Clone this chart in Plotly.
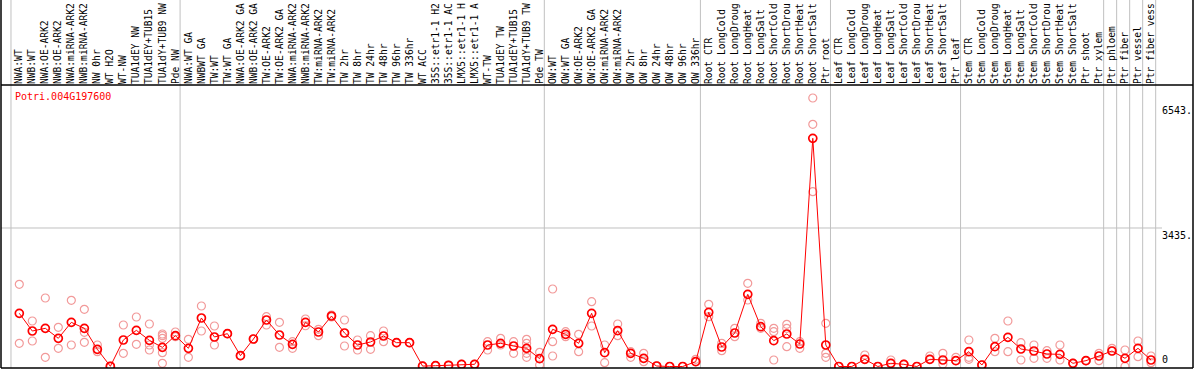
import plotly.graph_objects as go

categories = [
    "NWA:WT", "NWB:WT", "NWA:OE-ARK2", "NWB:OE-ARK2", "NWA:miRNA-ARK2", "NWB:miRNA-ARK2",
    "NW 0hr", "WT H2O", "WT-NW", "TUA1dEY NW", "TUA1dEY+TUB15 NW", "TUA1dY+TUB9 NW", "Pde NW",
    "NWA:WT GA", "NWBWT GA", "TW:WT", "TW:WT GA", "NWA:OE-ARK2 GA", "NWB:OE-ARK2 GA",
    "TW:OE-ARK2", "TW:OE-ARK2 GA", "NWA:miRNA-ARK2", "NWB:miRNA-ARK2", "TW:miRNA-ARK2",
    "TW:miRNA-ARK2", "TW 2hr", "TW 8hr", "TW 24hr", "TW 48hr", "TW 96hr", "TW 336hr",
    "WT ACC", "35S::etr1-1 H2O", "35S::etr1-1 ACC", "LMX5::etr1-1 H2O", "LMX5::etr1-1 ACC",
    "WT-TW", "TUA1dEY TW", "TUA1dEY+TUB15 TW", "TUA1dY+TUB9 TW", "Pde TW",
    "OW:WT", "OW:WT GA", "OW:OE-ARK2", "OW:OE-ARK2 GA", "OW:miRNA-ARK2", "OW:miRNA-ARK2",
    "OW 2hr", "OW 8hr", "OW 24hr", "OW 48hr", "OW 96hr", "OW 336hr",
    "Root CTR", "Root LongCold", "Root LongDrought", "Root LongHeat", "Root LongSalt",
    "Root ShortCold", "Root ShortDrought", "Root ShortHeat", "Root ShortSalt", "Ptr root",
    "Leaf CTR", "Leaf LongCold", "Leaf LongDrought", "Leaf LongHeat", "Leaf LongSalt",
    "Leaf ShortCold", "Leaf ShortDrought", "Leaf ShortHeat", "Leaf ShortSalt", "Ptr leaf",
    "Stem CTR", "Stem LongCold", "Stem LongDrought", "Stem LongHeat", "Stem LongSalt",
    "Stem ShortCold", "Stem ShortDrought", "Stem ShortHeat", "Stem ShortSalt",
    "Ptr shoot", "Ptr xylem", "Ptr phloem", "Ptr fiber", "Ptr vessel", "Ptr fiber vessel",
]

mean_values = [
    1319, 880, 947, 699, 1095, 947, 426, 5, 657, 897, 649, 475, 765,
    451, 1203, 732, 814, 269, 682, 1153, 781, 550, 1095, 856, 1252, 831, 533, 608, 756,
    591, 591, 10, 20, 30, 54, 54, 533, 574, 508, 451, 194,
    922, 798, 574, 1319, 343, 889, 327, 203, 12, 0, 0, 120,
    1343, 484, 831, 1790, 988, 641, 806, 558, 5659, 533,
    0, 0, 178, 0, 79, 54, 0, 178, 161, 145,
    368, 37, 492, 723, 434, 384, 310, 302, 79, 145, 260,
    384, 203, 451, 161,
]

replicates = [
    [2038, 575], [1128, 632], [1699, 227], [971, 451], [1641, 533], [1418, 847, 599],
    [533, 368], [0, 10], [1029, 327], [1228, 550], [1054, 533, 409],
    [806, 765, 699, 343, 79], [856, 740],
    [674, 227], [1501, 880], [1004, 533], [814, 814], [269, 269], [682, 682],
    [1236, 1029], [1095, 475], [616, 451], [1178, 1010], [922, 765], [1277, 1230],
    [1153, 508], [657, 409], [765, 426], [880, 616], [591, 591], [591, 591],
    [10, 10], [20, 20], [30, 30], [54, 54], [54, 54],
    [616, 409], [699, 533], [616, 327], [674, 574, 327, 227], [351, 37],
    [1922, 616, 260], [864, 740], [798, 368], [1608, 1004], [533, 95], [1054, 765],
    [368, 227], [327, 120], [12, 12], [0, 0], [0, 0], [178, 120],
    [1542, 1236], [574, 393], [947, 740], [2063, 1649], [1071, 947], [947, 864, 161],
    [1046, 947, 492], [616, 451], [6659, 6007, 4335], [1071, 327, 227],
    [0, 0], [0, 0], [285, 178], [0, 0], [161, 79], [54, 54], [0, 0], [260, 178],
    [327, 62], [227, 145],
    [657, 227, 178], [37, 37], [699, 368], [1128, 368], [591, 161], [533, 203],
    [393, 203], [533, 161], [79, 79], [145, 145], [327, 145],
    [451, 384], [409, 0], [632, 244], [260, 95],
]

group_starts = [0, 13, 41, 53, 63, 73, 84, 85, 86, 87, 88]
y_tick_values = [0, 3435, 6543]
y_tick_labels = ["0", "3435.", "6543."]
gene_id = "Potri.004G197600"

# visible part of each label (the label band only holds 14 characters)
tick_text = [c[:14].rstrip() for c in categories]

W, H = 1194, 370
ML, MR, MT, MB = 1, 1, 85, 2
plot_w = W - ML - MR
plot_h = H - MT - MB
px_per_cat = 13.008
x_first_px = 19.3
xmin = -(x_first_px - ML) / px_per_cat
xmax = xmin + plot_w / px_per_cat
units_per_px = 24.8
ymin = -1.5 * units_per_px
ymax = ymin + plot_h * units_per_px

xs = list(range(len(categories)))

rep_x, rep_y = [], []
for i, reps in enumerate(replicates):
    for v in reps:
        rep_x.append(i)
        rep_y.append(v)

fig = go.Figure()
fig.add_trace(go.Scatter(
    x=rep_x, y=rep_y, mode="markers",
    marker=dict(symbol="circle-open", size=8, color="#F29A9A", line=dict(width=1.2, color="#F29A9A")),
    hoverinfo="skip", showlegend=False,
))
fig.add_trace(go.Scatter(
    x=xs, y=mean_values, mode="lines+markers",
    line=dict(color="#FF0000", width=1),
    marker=dict(symbol="circle-open", size=8, color="#FF0000", line=dict(width=1.7, color="#FF0000")),
    showlegend=False,
))

top_paper = 1 + MT / plot_h + 0.05
shapes = []
for g in group_starts:
    shapes.append(dict(type="line", xref="x", yref="paper", x0=g - 0.64, x1=g - 0.64,
                       y0=0, y1=top_paper, line=dict(color="#C0C0C0", width=1), layer="below"))
shapes.append(dict(type="line", xref="paper", yref="y", x0=0, x1=(1162 - ML) / plot_w,
                   y0=3435, y1=3435, line=dict(color="#C0C0C0", width=1), layer="below"))
shapes.append(dict(type="line", xref="paper", yref="paper", x0=0, x1=0, y0=0, y1=top_paper,
                   line=dict(color="black", width=1.5)))
shapes.append(dict(type="line", xref="paper", yref="paper", x0=1, x1=1, y0=0, y1=top_paper,
                   line=dict(color="black", width=1.5)))
shapes.append(dict(type="line", xref="paper", yref="paper", x0=0, x1=1, y0=1, y1=1,
                   line=dict(color="black", width=1.5)))
shapes.append(dict(type="line", xref="paper", yref="paper", x0=0, x1=1, y0=0, y1=0,
                   line=dict(color="black", width=1.5)))

annotations = [dict(
    text=gene_id, xref="paper", yref="paper", x=(13 - ML) / plot_w, y=1 - (97 - MT) / plot_h,
    xanchor="left", yanchor="middle", showarrow=False,
    font=dict(family="DejaVu Sans Mono", size=10, color="#FF0000"),
)]
for v, lab in zip(y_tick_values, y_tick_labels):
    annotations.append(dict(
        text=lab, xref="paper", yref="y", x=(1160 - ML) / plot_w, y=v,
        xanchor="left", yanchor="bottom" if v == 0 else "top", showarrow=False,
        font=dict(family="DejaVu Sans Mono", size=10, color="black"),
    ))

fig.update_layout(
    width=W, height=H,
    margin=dict(l=ML, r=MR, t=MT, b=MB, pad=0),
    paper_bgcolor="white", plot_bgcolor="white",
    shapes=shapes, annotations=annotations,
    xaxis=dict(
        range=[xmin, xmax], side="top", tickmode="array", tickvals=xs, ticktext=tick_text,
        tickangle=-90, showgrid=False, zeroline=False, showline=False, ticks="",
        tickfont=dict(family="DejaVu Sans Mono", size=9.6, color="black"),
        automargin=False, ticklabelstandoff=0,
    ),
    yaxis=dict(
        range=[ymin, ymax], showgrid=False, zeroline=False, showline=False,
        showticklabels=False, ticks="", automargin=False,
    ),
    font=dict(family="DejaVu Sans Mono"),
)

fig.write_html(
    "out.html",
    config={"displayModeBar": False},
    post_script="document.body.style.margin='0';document.body.style.overflow='hidden';",
)
